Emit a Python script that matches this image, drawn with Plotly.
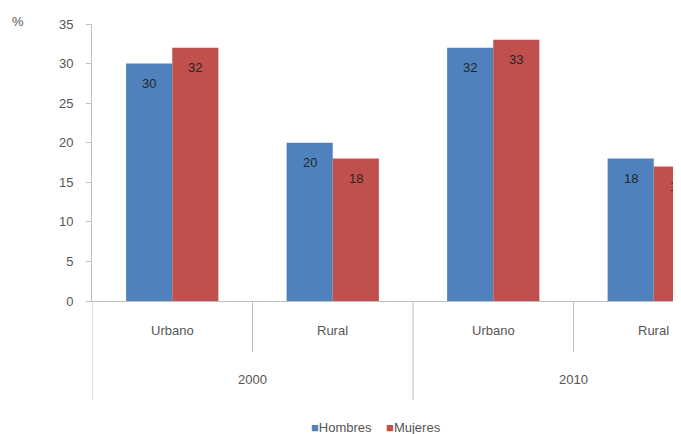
import plotly.graph_objects as go

years = ["2000", "2010"]
areas = ["Urbano", "Rural"]
categories = ["Urbano", "Rural", "Urbano", "Rural"]
series_names = ["Hombres", "Mujeres"]
hombres = [30, 20, 32, 18]
mujeres = [32, 18, 33, 17]
y_ticks = [0, 5, 10, 15, 20, 25, 30, 35]
colors = ["#4F81BD", "#C0504D"]

FONT = "Liberation Sans, Arial, sans-serif"
GRAY = "#555555"
LINE = "#BFBFBF"

# page body has an 8px margin; compensate so the figure fills the window
OFF = 8
WIN_W, WIN_H = 681, 434
W, H = WIN_W - OFF, WIN_H - OFF
AX_X, TOP_Y, ZERO_Y = 92, 24, 301          # window-pixel layout targets
ML, MR, MT, MB = AX_X - OFF, 0, TOP_Y - OFF, H - (ZERO_Y - OFF)
plot_h = H - MT - MB
plot_w = W - ML - MR
CAT_PX = 160.5
BARGAP = 0.425

def py(pix):
    return (ZERO_Y - pix) / plot_h

def px(pix):
    return (pix - AX_X) / plot_w

x_idx = list(range(len(categories)))

fig = go.Figure()
for name, vals, col in zip(series_names, [hombres, mujeres], colors):
    fig.add_trace(go.Bar(x=x_idx, y=vals, name=name, marker_color=col,
                         marker_line_width=0, showlegend=False))

annotations = []
bar_px = CAT_PX * (1 - BARGAP) / len(series_names)
for s, vals in enumerate([hombres, mujeres]):
    shift = (s - (len(series_names) - 1) / 2) * bar_px
    for i, v in enumerate(vals):
        annotations.append(dict(x=i, y=v, xref="x", yref="y", text=str(v), showarrow=False,
                                xshift=shift, yshift=-20, xanchor="center", yanchor="middle",
                                font=dict(family=FONT, size=13, color="#262626")))
for i, c in enumerate(categories):
    annotations.append(dict(x=i, y=py(330), xref="x", yref="paper", text=c,
                            xanchor="center", yanchor="middle", showarrow=False,
                            font=dict(family=FONT, size=13, color=GRAY)))
for j, yr in enumerate(years):
    annotations.append(dict(x=j * len(areas) + (len(areas) - 1) / 2, y=py(379), xref="x",
                            yref="paper", text=yr, xanchor="center", yanchor="middle",
                            showarrow=False, font=dict(family=FONT, size=13, color=GRAY)))
annotations.append(dict(x=px(18), y=py(22), xref="paper", yref="paper", text="%",
                        xanchor="center", yanchor="middle", showarrow=False,
                        font=dict(family=FONT, size=13, color=GRAY)))
legend_text = "&nbsp;&nbsp;&nbsp;&nbsp;".join(
    f"<span style='color:{c}'>■</span>{n}" for n, c in zip(series_names, colors))
annotations.append(dict(x=px(376), y=py(427), xref="paper", yref="paper",
                        text=legend_text, xanchor="center", yanchor="middle", showarrow=False,
                        font=dict(family=FONT, size=13, color=GRAY)))

shapes = []
for j in range(len(years)):
    start = j * len(areas) - 0.5
    shapes.append(dict(type="line", xref="x", yref="paper", x0=start, x1=start,
                       y0=0, y1=py(400), line=dict(color=LINE, width=1)))
    for k in range(1, len(areas)):
        xd = start + k
        shapes.append(dict(type="line", xref="x", yref="paper", x0=xd, x1=xd,
                           y0=0, y1=py(352), line=dict(color=LINE, width=1)))

fig.update_layout(
    width=W, height=H,
    margin=dict(l=ML, r=MR, t=MT, b=MB, autoexpand=False),
    paper_bgcolor="white", plot_bgcolor="white",
    barmode="group", bargap=BARGAP, bargroupgap=0,
    font=dict(family=FONT, size=13, color=GRAY),
    showlegend=False,
    annotations=annotations,
    shapes=shapes,
    xaxis=dict(range=[-0.5, -0.5 + plot_w / CAT_PX], showticklabels=False, ticks="",
               showgrid=False, zeroline=False, showline=True, linecolor=LINE, linewidth=1,
               automargin=False),
    yaxis=dict(range=[0, 35], tickvals=y_ticks, ticks="outside", ticklen=5, tickcolor=LINE,
               showgrid=False, zeroline=False, showline=True, linecolor=LINE, linewidth=1,
               tickfont=dict(family=FONT, size=13, color=GRAY), ticklabelstandoff=10,
               automargin=False),
)

fig.write_html("out.html")
